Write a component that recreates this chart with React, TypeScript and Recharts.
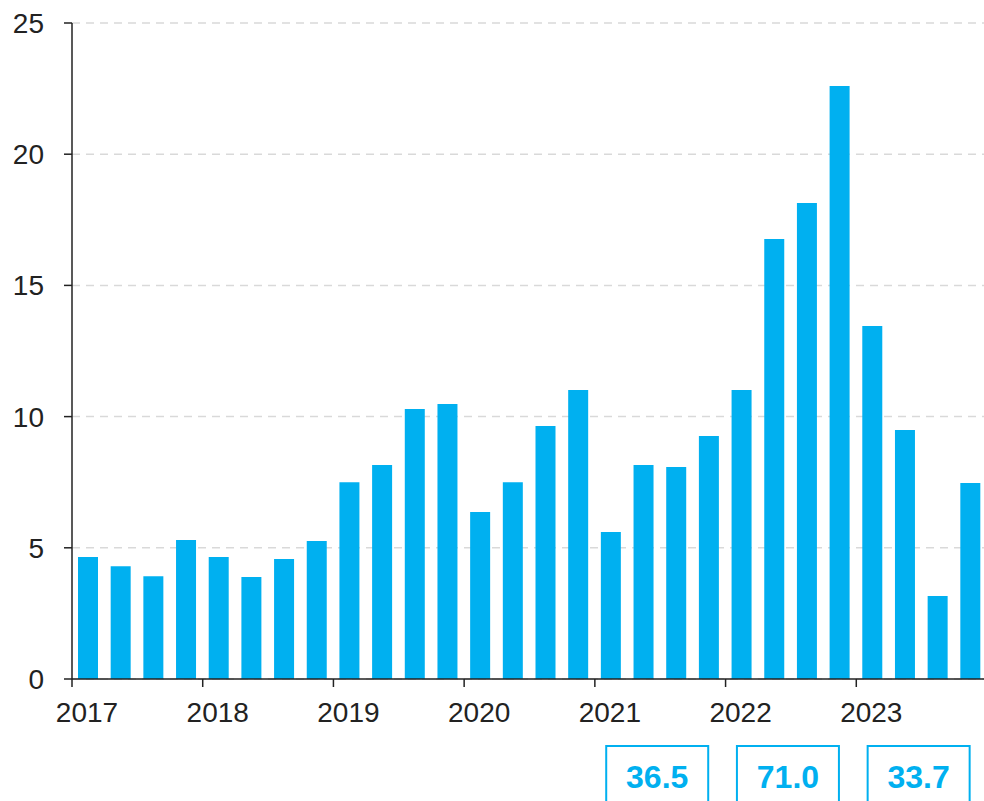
import { BarChart, Bar, XAxis, YAxis, CartesianGrid } from "recharts";

const FIRST_YEAR = 2017;
const LAST_YEAR = 2024;
const YEAR_TICKS = [2017, 2018, 2019, 2020, 2021, 2022, 2023];
const Y_TICKS = [0, 5, 10, 15, 20, 25];

// quarterly values, 2017 Q1 .. 2023 Q4
const QUARTER_VALUES = [
  4.65, 4.3, 3.92, 5.3,
  4.65, 3.89, 4.57, 5.26,
  7.5, 8.16, 10.29, 10.48,
  6.36, 7.5, 9.64, 11.01,
  5.6, 8.16, 8.08, 9.26,
  11.01, 16.77, 18.14, 22.6,
  13.45, 9.49, 3.16, 7.47,
];

const BOX_YEARS = [2021, 2022, 2023];
const BOX_LABELS = ["36.5", "71.0", "33.7"];

const BLUE = "#00b0f0";
const INK = "#222222";
const FONT = "'Liberation Sans', Arial, sans-serif";

const data = QUARTER_VALUES.map((value, i) => ({
  x: FIRST_YEAR + (i + 0.5) / 4,
  value,
}));

const YearTick = (props: any) => {
  const { x, y, payload } = props;
  return (
    <text
      x={x + 15}
      y={y}
      dy="0.71em"
      textAnchor="middle"
      fill={INK}
      fontSize={28}
      fontFamily={FONT}
    >
      {payload.value}
    </text>
  );
};

const BoxTick = (props: any) => {
  const { x, y, payload } = props;
  const idx = BOX_YEARS.indexOf(Math.round(payload.value - 0.5));
  if (idx < 0) return null;
  const cx = x - 3;
  return (
    <g>
      <rect
        x={cx - 51}
        y={y + 17}
        width={102}
        height={62}
        fill="#fff"
        stroke={BLUE}
        strokeWidth={2}
      />
      <text
        x={cx}
        y={y + 59}
        textAnchor="middle"
        fill={BLUE}
        fontSize={32}
        fontWeight={700}
        fontFamily={FONT}
      >
        {BOX_LABELS[idx]}
      </text>
    </g>
  );
};

export default function App() {
  return (
    <div style={{ position: "absolute", left: 0, top: 0, width: 984, height: 801 }}>
      <BarChart
        width={984}
        height={801}
        data={data}
        margin={{ top: 23, right: -3, left: 0, bottom: 0 }}
      >
        <CartesianGrid
          vertical={false}
          stroke="#d9d9d9"
          strokeWidth={1.5}
          strokeDasharray="8 6"
          xAxisId="a"
        />
        <XAxis
          xAxisId="a"
          dataKey="x"
          type="number"
          domain={[FIRST_YEAR, LAST_YEAR]}
          ticks={YEAR_TICKS}
          interval={0}
          height={50}
          tickSize={8}
          tickMargin={15}
          stroke={INK}
          strokeWidth={1.5}
          tick={<YearTick />}
          allowDataOverflow
        />
        <XAxis
          xAxisId="b"
          dataKey="x"
          type="number"
          domain={[FIRST_YEAR, LAST_YEAR]}
          ticks={BOX_YEARS.map((y) => y + 0.5)}
          interval={0}
          height={72}
          axisLine={false}
          tickLine={false}
          tickSize={0}
          tickMargin={0}
          tick={<BoxTick />}
          allowDataOverflow
        />
        <YAxis
          width={72}
          domain={[0, 25]}
          ticks={Y_TICKS}
          interval={0}
          tickSize={8}
          tickMargin={20}
          stroke={INK}
          strokeWidth={1.5}
          tick={{ fill: INK, fontSize: 28, fontFamily: FONT }}
        />
        <Bar
          xAxisId="a"
          dataKey="value"
          fill={BLUE}
          barSize={20}
          isAnimationActive={false}
        />
      </BarChart>
    </div>
  );
}
